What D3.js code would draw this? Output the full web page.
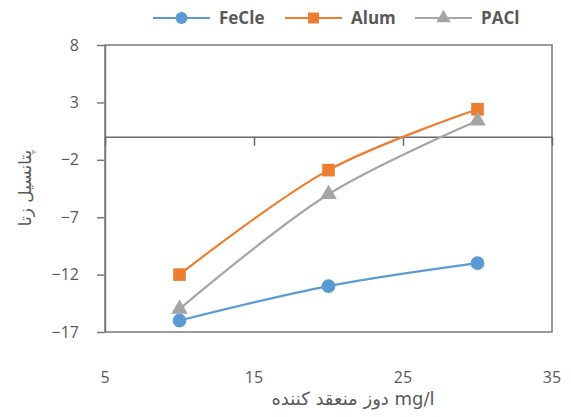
<!DOCTYPE html>
<html>
<head>
<meta charset="utf-8">
<script src="https://cdn.jsdelivr.net/npm/d3@7"></script>
<style>
  body { margin: 0; background: white; }
  text { font-family: "Open Sans", "Liberation Sans", sans-serif; fill: #595959; }
</style>
</head>
<body>
<div id="chart"></div>
<script>
// ---------- data ----------
const doses = [10, 20, 30];
const feclValues = [-16, -13, -11];
const alumValues = [-12, -2.9, 2.4];
const paclValues = [-15, -5, 1.4];
const xTicks = [5, 15, 25, 35];
const yTicks = [8, 3, -2, -7, -12, -17];
const seriesNames = ["FeCle", "Alum", "PACl"];

const series = [
    { name: seriesNames[0], values: feclValues, color: "#5b9bd5", symbol: d3.symbolCircle, size: 150 },
    { name: seriesNames[1], values: alumValues, color: "#ed7d31", symbol: d3.symbolSquare, size: 160 },
    { name: seriesNames[2], values: paclValues, color: "#a5a5a5", symbol: d3.symbolTriangle, size: 120 }
];

// ---------- svg ----------
const width = 571, height = 417;
const margin = { top: 45, right: 19, bottom: 85, left: 105 };

const svg = d3.select("#chart").append("svg")
    .attr("width", width)
    .attr("height", height);

const x = d3.scaleLinear().domain([5, 35]).range([margin.left, width - margin.right]);
const y = d3.scaleLinear().domain([-17, 8]).range([height - margin.bottom, margin.top]);

// plot box
svg.append("rect")
    .attr("x", x(5)).attr("y", y(8))
    .attr("width", x(35) - x(5)).attr("height", y(-17) - y(8))
    .attr("fill", "none")
    .attr("stroke", "#7a7a7a")
    .attr("stroke-width", 1.5);

// y axis
const yAxis = svg.append("g")
    .attr("transform", `translate(${x(5)},0)`)
    .call(d3.axisLeft(y).tickValues(yTicks).tickSize(8).tickSizeOuter(0));
yAxis.select(".domain").attr("stroke", "#7a7a7a").attr("stroke-width", 1.5);
yAxis.selectAll(".tick line").attr("stroke", "#7a7a7a").attr("stroke-width", 1.5);
yAxis.selectAll(".tick text")
    .attr("x", -26)
    .style("font-size", "16px")
    .style("font-family", "'Open Sans', sans-serif")
    .attr("fill", "#595959");

// x axis line at y = 0
const xAxis = svg.append("g")
    .attr("transform", `translate(0,${y(0)})`)
    .call(d3.axisBottom(x).tickValues(xTicks).tickSize(9).tickSizeOuter(0).tickFormat(""));
xAxis.select(".domain").attr("stroke", "#6a6a6a").attr("stroke-width", 1.5);
xAxis.selectAll(".tick line").attr("stroke", "#6a6a6a").attr("stroke-width", 1.5);

// x tick labels at bottom
svg.append("g").selectAll("text")
    .data(xTicks)
    .join("text")
    .attr("x", d => x(d))
    .attr("y", 383)
    .attr("text-anchor", "middle")
    .style("font-size", "16px")
    .text(d => d);

// axis titles
svg.append("text")
    .attr("x", 353)
    .attr("y", 405)
    .attr("text-anchor", "middle")
    .style("font-size", "18px")
    .style("font-family", "'DejaVu Sans', 'Open Sans', sans-serif")
    .text("دوز منعقد کننده mg/l");

svg.append("text")
    .attr("transform", `translate(31,188) rotate(-90)`)
    .attr("text-anchor", "middle")
    .style("font-size", "17px")
    .style("font-family", "'DejaVu Sans', sans-serif")
    .text("پتانسیل زتا");

// ---------- lines ----------
const line = d3.line()
    .x((d, i) => x(doses[i]))
    .y(d => y(d))
    .curve(d3.curveCatmullRom.alpha(0.5));

series.forEach(s => {
    svg.append("path")
        .datum(s.values)
        .attr("d", line)
        .attr("fill", "none")
        .attr("stroke", s.color)
        .attr("stroke-width", 2.2);
});

series.forEach(s => {
    svg.append("g").selectAll("path")
        .data(s.values)
        .join("path")
        .attr("transform", (d, i) => `translate(${x(doses[i])},${y(d)})`)
        .attr("d", d3.symbol().type(s.symbol).size(s.size))
        .attr("fill", s.color);
});

// ---------- legend ----------
const legendX = [153, 285, 415];
const legend = svg.append("g");
series.forEach((s, i) => {
    const g = legend.append("g").attr("transform", `translate(${legendX[i]},18)`);
    g.append("line")
        .attr("x1", 0).attr("x2", 57)
        .attr("stroke", s.color).attr("stroke-width", 2.2);
    g.append("path")
        .attr("transform", "translate(28.5,0)")
        .attr("d", d3.symbol().type(s.symbol).size(s.size * 0.75))
        .attr("fill", s.color);
    g.append("text")
        .attr("x", 66)
        .attr("y", 6)
        .style("font-size", "17px")
        .style("font-weight", "bold")
        .text(s.name);
});
</script>
</body>
</html>
